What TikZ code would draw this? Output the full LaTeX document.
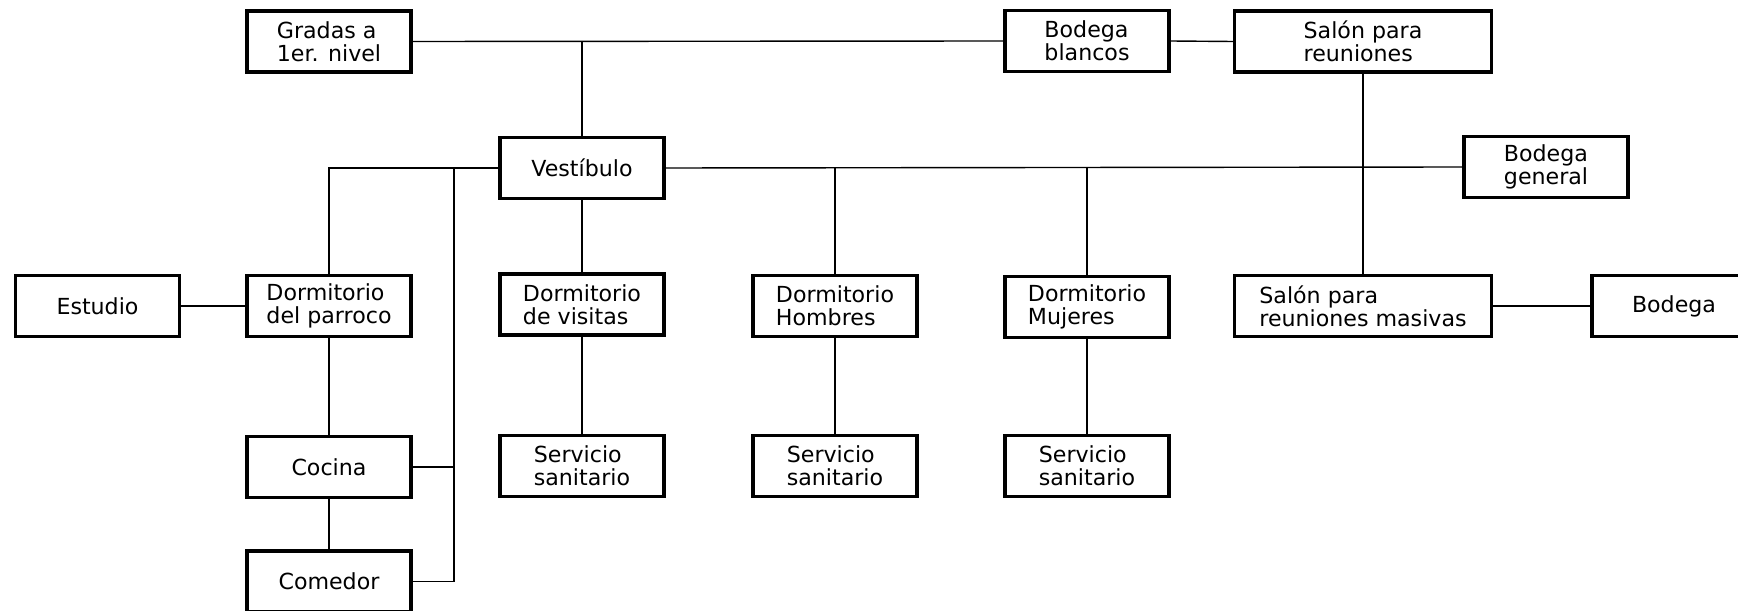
\documentclass[tikz,border=0pt]{standalone}
\usepackage{fontspec}
\setmainfont{DejaVu Sans}
\usepackage{xcolor}
\definecolor{cLine}{HTML}{000000}
\definecolor{cText}{HTML}{000000}
\usetikzlibrary{positioning,calc}
\tikzset{
  room-box/.style={draw=cLine,line width=2pt,rectangle,inner sep=0pt,
    minimum height=1.22cm,minimum width=3.28cm,align=left,text=cText,
    font=\fontsize{12.6pt}{13.2pt}\selectfont},
  room-wide/.style={room-box,minimum width=5.14cm},
  link/.style={draw=cLine,line width=0.8pt},
}
\begin{document}
\begin{tikzpicture}[x=0.02cm,y=-0.02cm]
  \useasboundingbox (0,0) rectangle (1738,611);
  \clip (0,0) rectangle (1738,611);
  % fila superior
  \node[room-box]  (gradas)  at (329,41.5)  {Gradas a\\1er. nivel};
  \node[room-box]  (blancos) at (1087,41)   {Bodega\\blancos};
  \node[room-wide] (salon)   at (1363,41.5) {Salón para\\reuniones};
  % vestibulo
  \node[room-box]  (vest)    at (582,168)   {Vestíbulo};
  \node[room-box]  (general) at (1546,167)  {Bodega\\general};
  % dormitorios
  \node[room-box]  (estudio) at (97.5,306)  {Estudio};
  \node[room-box]  (parroco) at (329,306)   {Dormitorio\\del parroco};
  \node[room-box]  (visitas) at (582,304.5) {Dormitorio\\de visitas};
  \node[room-box]  (hombres) at (835,306)   {Dormitorio\\Hombres};
  \node[room-box]  (mujeres) at (1087,307)  {Dormitorio\\Mujeres};
  \node[room-wide] (masivas) at (1363,306)  {Salón para\\reuniones masivas};
  \node[room-box]  (bodega)  at (1674,306)  {Bodega};
  % servicios
  \node[room-box]  (ss-vis)  at (582,466)   {Servicio\\sanitario};
  \node[room-box]  (ss-hom)  at (835,466)   {Servicio\\sanitario};
  \node[room-box]  (ss-muj)  at (1087,466)  {Servicio\\sanitario};
  \node[room-box]  (cocina)  at (329,467)   {Cocina};
  \node[room-box]  (comedor) at (329,581.5) {Comedor};
  \coordinate (bus) at (454,168);
  % conexiones
  \draw[link] (gradas.east) -- (blancos.west);
  \draw[link] (vest.north) -- (vest.north |- gradas.east);
  \draw[link] (blancos.east) -- (salon.west);
  \draw[link] (salon.south) -- (masivas.north);
  \draw[link] (vest.east) -- (general.west);
  \draw[link] (hombres.north) -- (hombres.north |- vest.east);
  \draw[link] (mujeres.north) -- (mujeres.north |- vest.east);
  \draw[link] (vest.west) -| (parroco.north);
  \draw[link] (vest.south) -- (visitas.north);
  \draw[link] (bus) -- (bus |- comedor.east) -- (comedor.east);
  \draw[link] (cocina.east) -- (cocina.east -| bus);
  \draw[link] (estudio) -- (parroco);
  \draw[link] (parroco) -- (cocina);
  \draw[link] (cocina) -- (comedor);
  \draw[link] (visitas) -- (ss-vis);
  \draw[link] (hombres) -- (ss-hom);
  \draw[link] (mujeres) -- (ss-muj);
  \draw[link] (masivas) -- (bodega);
\end{tikzpicture}
\end{document}
